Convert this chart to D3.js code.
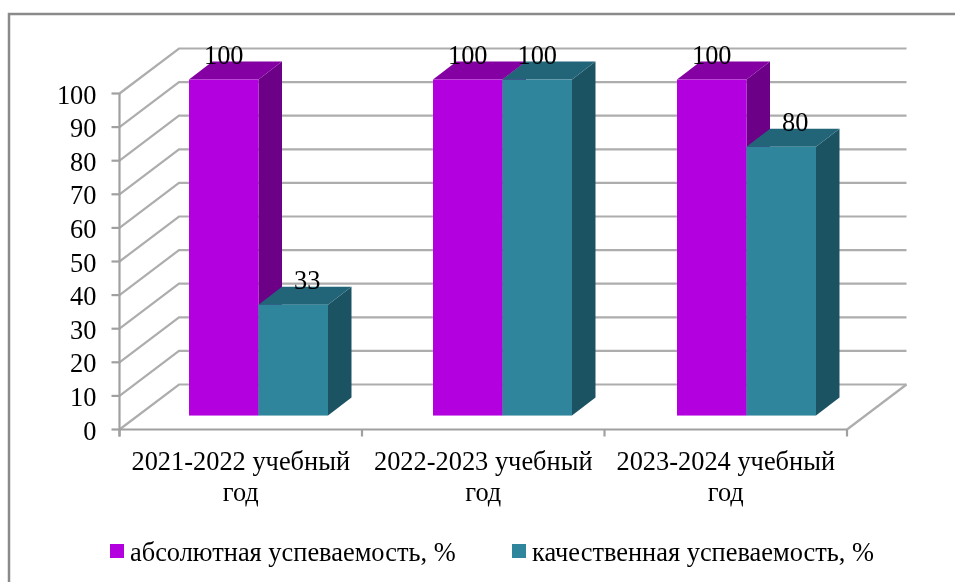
<!DOCTYPE html>
<html lang="ru">
<head>
<meta charset="utf-8">
<title>Успеваемость</title>
<script src="https://cdn.jsdelivr.net/npm/d3@7"></script>
<style>
  html, body { margin: 0; padding: 0; background: #fff; }
  svg { display: block; font-family: "Liberation Serif", serif; }
</style>
</head>
<body>
<svg width="955" height="582"></svg>
<script>
var years = ["2021-2022 учебный год", "2022-2023 учебный год", "2023-2024 учебный год"];
var seriesNames = ["абсолютная успеваемость, %", "качественная успеваемость, %"];
var absolute = [100, 100, 100];
var quality = [33, 100, 80];
var yTicks = [0, 10, 20, 30, 40, 50, 60, 70, 80, 90, 100];
var seriesColors = ["#b300de", "#2f859c"];
var topColors = ["#8400a3", "#226579"];
var sideColors = ["#6c0086", "#1f5363"];

var fontSize = 26.4;
var svg = d3.select("svg");

// the source is a soft raster, a small blur gets the same edges
svg.append("filter").attr("id", "soft")
    .attr("filterUnits", "userSpaceOnUse").attr("x", 0).attr("y", 0).attr("width", 955).attr("height", 582)
  .append("feGaussianBlur").attr("stdDeviation", 0.45);

var chart = svg.append("g").attr("filter", "url(#soft)");

// frame, only the top and left edges are in the picture
chart.append("path").attr("d", "M9,582V14H955")
    .attr("fill", "none").attr("stroke", "#8a8a8a").attr("stroke-width", 2.5);

var y = d3.scaleLinear().domain([0, 100]).range([429.5, 93.5]);
var x = d3.scaleBand().domain(years).range([119.5, 847]);
// the bars stand a bit further apart than the ticks
var barX = d3.scaleBand().domain(years).range([136.5, 868.5]);

// depth of the 3d box, 0 = front edge, 1 = back wall
var depthX = d3.scaleLinear().domain([0, 1]).range([0, 59.5]);
var depthY = d3.scaleLinear().domain([0, 1]).range([0, -45]);
var barFront = 0.31, barBack = 0.71;

function poly(points) {
  return points.map(function(p) { return p.join(","); }).join(" ");
}

// walls grid
var grid = chart.append("g").attr("fill", "none").attr("stroke", "#adadad").attr("stroke-width", 2.2);
yTicks.forEach(function(t) {
  var backY = y(t) + depthY(1), backX = x.range()[0] + depthX(1);
  grid.append("polyline").attr("points", poly([
    [x.range()[0], y(t)], [backX, backY], [x.range()[1] + depthX(1), backY]
  ]));
});
grid.append("polyline").attr("points", poly([
  [x.range()[1], y(0)], [x.range()[1] + depthX(1), y(0) + depthY(1)]
]));

// axes
var axes = chart.append("g").attr("stroke", "#a0a0a0").attr("stroke-width", 2.2);
axes.append("line").attr("x1", x.range()[0]).attr("x2", x.range()[0]).attr("y1", y(100)).attr("y2", y(0) + 7);
axes.append("line").attr("x1", x.range()[0]).attr("x2", x.range()[1]).attr("y1", y(0)).attr("y2", y(0));
yTicks.forEach(function(t) {
  axes.append("line").attr("x1", x.range()[0] - 8).attr("x2", x.range()[0]).attr("y1", y(t)).attr("y2", y(t));
});
x.domain().concat(["end"]).forEach(function(d, i) {
  var px = x.range()[0] + i * x.bandwidth();
  axes.append("line").attr("x1", px).attr("x2", px).attr("y1", y(0)).attr("y2", y(0) + 7);
});

chart.append("g").selectAll("text").data(yTicks).enter().append("text")
    .attr("x", 96.5).attr("y", function(d) { return y(d) + 10; })
    .attr("text-anchor", "end").attr("font-size", fontSize).attr("fill", "#000")
    .text(function(d) { return d; });

// bars, one category at a time
var barWidth = 69.5;
var marks = chart.append("g");
var labels = chart.append("g").attr("font-size", fontSize).attr("text-anchor", "middle").attr("fill", "#000");

years.forEach(function(year, c) {
  var values = [absolute[c], quality[c]];
  var left = barX(year) + (barX.bandwidth() - 2 * barWidth) / 2;
  values.forEach(function(v, s) {
    var x0 = left + s * barWidth, x1 = x0 + barWidth;
    var yBase = y(0) + depthY(barFront), yTop = y(v) + depthY(barFront);
    var dx = 23.5, dy = depthY(barBack) - depthY(barFront);
    marks.append("polygon").attr("fill", sideColors[s])
        .attr("points", poly([[x1, yTop], [x1 + dx, yTop + dy], [x1 + dx, yBase + dy], [x1, yBase]]));
    marks.append("polygon").attr("fill", topColors[s])
        .attr("points", poly([[x0, yTop], [x0 + dx, yTop + dy], [x1 + dx, yTop + dy], [x1, yTop]]));
    marks.append("rect").attr("x", x0).attr("y", yTop).attr("width", barWidth).attr("height", yBase - yTop)
        .attr("fill", seriesColors[s]);
    // labels of the shorter bars sit over the middle of the top face
    labels.append("text").attr("x", x0 + barWidth / 2 + (v < 100 ? 14 : 0))
        .attr("y", y(v) + depthY(barBack) + 2.5).text(v);
  });
});
labels.raise();

// category labels on two lines
chart.append("g").attr("font-size", fontSize).attr("text-anchor", "middle").attr("fill", "#000")
  .selectAll("text").data(years).enter().append("text")
    .each(function(d) {
      var cut = d.lastIndexOf(" ");
      var cx = x(d) + x.bandwidth() / 2;
      d3.select(this).append("tspan").attr("x", cx).attr("y", 470).text(d.slice(0, cut));
      d3.select(this).append("tspan").attr("x", cx).attr("y", 501).text(d.slice(cut + 1));
    });

// legend
var legendX = [110, 512];
var legendTextX = [130, 532];
seriesNames.forEach(function(name, s) {
  chart.append("rect").attr("x", legendX[s]).attr("y", 544).attr("width", 14).attr("height", 14)
      .attr("fill", seriesColors[s]);
  chart.append("text").attr("x", legendTextX[s]).attr("y", 561).attr("font-size", fontSize).attr("fill", "#000")
      .text(name);
});
</script>
</body>
</html>
